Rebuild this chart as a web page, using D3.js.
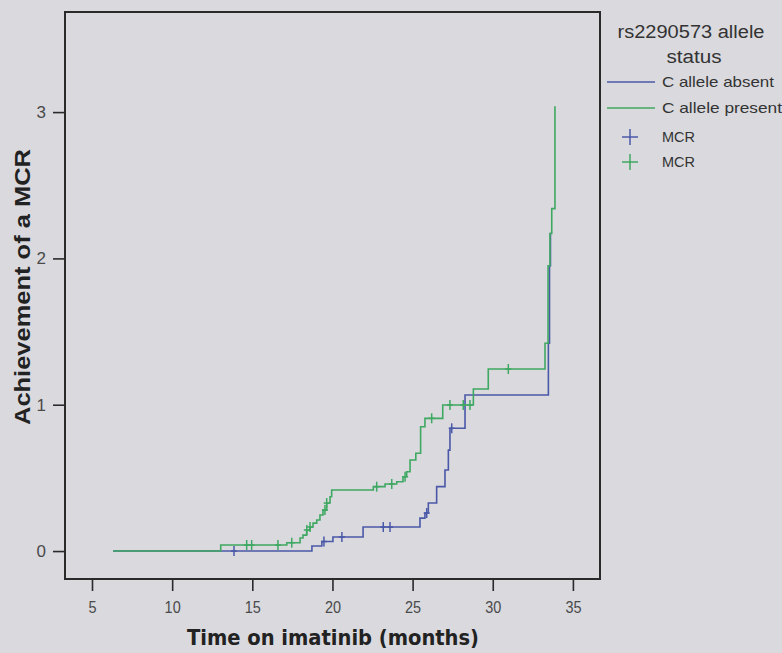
<!DOCTYPE html>
<html>
<head>
<meta charset="utf-8">
<script src="https://cdn.jsdelivr.net/npm/d3@7/dist/d3.min.js"></script>
<style>
  html, body { margin: 0; padding: 0; background: #d9d9de; }
  svg { display: block; }
</style>
</head>
<body>
<svg id="chart" width="782" height="653"></svg>
<script>
// ---- data ----
const xTicks = [5, 10, 15, 20, 25, 30, 35];
const yTicks = [0, 1, 2, 3];
const seriesNames = ["C allele absent", "C allele present"];
const censorLabel = "MCR";
const legendTitle = ["rs2290573 allele", "status"];
const xTitle = "Time on imatinib (months)";
const yTitle = "Achievement of a MCR";

// C allele absent: step points [time, cumulative hazard]
const absentSteps = [
  [6.31, 0], [18.72, 0.035], [19.34, 0.065], [20.03, 0.096], [21.91, 0.164],
  [25.46, 0.225], [25.77, 0.26], [25.98, 0.328], [26.50, 0.44], [27.02, 0.554],
  [27.23, 0.69], [27.33, 0.839], [28.27, 1.066], [33.47, 1.42], [33.54, 1.95],
  [33.60, 2.17], [33.63, 2.17]
];
const absentCensors = [
  [13.86, 0], [19.47, 0.065], [20.59, 0.096], [23.17, 0.164], [23.59, 0.164],
  [25.88, 0.26], [27.44, 0.839]
];

// C allele present
const presentSteps = [
  [6.31, 0], [13.03, 0.041], [17.15, 0.057], [17.98, 0.089], [18.16, 0.109],
  [18.39, 0.144], [18.60, 0.164], [18.79, 0.191], [19.02, 0.212], [19.22, 0.246],
  [19.41, 0.28], [19.64, 0.328], [19.85, 0.371], [19.95, 0.417], [22.55, 0.44],
  [23.28, 0.458], [24.01, 0.474], [24.40, 0.508], [24.63, 0.542], [24.84, 0.622],
  [25.20, 0.668], [25.50, 0.85], [25.77, 0.907], [26.88, 0.998], [28.79, 1.107],
  [29.72, 1.244], [33.26, 1.42], [33.45, 1.95], [33.57, 2.17], [33.68, 2.34],
  [33.88, 3.04]
];
const presentCensors = [
  [14.65, 0.041], [14.96, 0.041], [16.60, 0.041], [17.46, 0.057], [18.40, 0.144],
  [18.60, 0.164], [19.53, 0.28], [19.64, 0.328], [22.76, 0.44], [23.70, 0.458],
  [24.53, 0.508], [26.19, 0.907], [27.33, 0.998], [28.16, 0.998], [28.58, 0.998],
  [30.97, 1.244]
];

const colors = ["#4a58a8", "#3fa862"];

// ---- layout ----
const svg = d3.select("#chart");
const plot = { left: 65, top: 12, right: 600, bottom: 579 };

const x = d3.scaleLinear().domain([3.316, 36.69]).range([plot.left, plot.right]);
const y = d3.scaleLinear().domain([-0.191, 3.684]).range([plot.bottom, plot.top]);

svg.append("rect").attr("width", 782).attr("height", 653).attr("fill", "#d9d9de");

// axes
const xAxis = d3.axisBottom(x).tickValues(xTicks).tickSize(12).tickPadding(10).tickFormat(d3.format("d"));
const yAxis = d3.axisLeft(y).tickValues(yTicks).tickSize(12).tickPadding(7).tickFormat(d3.format("d"));

const gx = svg.append("g").attr("transform", `translate(0,${plot.bottom})`).call(xAxis);
const gy = svg.append("g").attr("transform", `translate(${plot.left},0)`).call(yAxis);
[gx, gy].forEach(g => {
  g.select(".domain").remove();
  g.selectAll(".tick line").attr("stroke", "#2a2a2a").attr("stroke-width", 1.6);
  g.selectAll(".tick text")
    .attr("fill", "#4a4a4a")
    .style("font-family", "'Liberation Sans', Arial, sans-serif")
    .style("font-size", "17px");
});
gx.selectAll(".tick text").attr("transform", "scale(0.85,1)");

// frame
svg.append("rect")
  .attr("x", plot.left).attr("y", plot.top)
  .attr("width", plot.right - plot.left).attr("height", plot.bottom - plot.top)
  .attr("fill", "none").attr("stroke", "#2a2a2a").attr("stroke-width", 2);

// curves
const line = d3.line().x(d => x(d[0])).y(d => y(d[1])).curve(d3.curveStepAfter);
const series = [
  { steps: absentSteps, censors: absentCensors, color: colors[0] },
  { steps: presentSteps, censors: presentCensors, color: colors[1] }
];
series.forEach(s => {
  svg.append("path").datum(s.steps)
    .attr("d", line).attr("fill", "none")
    .attr("stroke", s.color).attr("stroke-width", 1.6);
});
series.forEach(s => {
  const g = svg.append("g").attr("stroke", s.color).attr("stroke-width", 1.5);
  s.censors.forEach(c => {
    const cx = x(c[0]), cy = y(c[1]);
    g.append("line").attr("x1", cx).attr("x2", cx).attr("y1", cy - 5).attr("y2", cy + 5);
    g.append("line").attr("x1", cx - 3).attr("x2", cx + 3).attr("y1", cy).attr("y2", cy);
  });
});

// axis titles
svg.append("text")
  .attr("x", 333).attr("y", 645)
  .attr("text-anchor", "middle")
  .attr("textLength", 292).attr("lengthAdjust", "spacingAndGlyphs")
  .attr("fill", "#222")
  .style("font-family", "'DejaVu Sans', Verdana, sans-serif")
  .style("font-weight", "bold")
  .style("font-size", "21px")
  .text(xTitle);

svg.append("text")
  .attr("transform", "translate(30,287) rotate(-90)")
  .attr("text-anchor", "middle")
  .attr("textLength", 276).attr("lengthAdjust", "spacingAndGlyphs")
  .attr("fill", "#222")
  .style("font-family", "'Liberation Sans', Arial, sans-serif")
  .style("font-weight", "bold")
  .style("font-size", "22px")
  .text(yTitle);

// legend
const lg = svg.append("g").style("font-family", "'Liberation Sans', Arial, sans-serif").attr("fill", "#333");
lg.append("text").attr("x", 691).attr("y", 38).attr("text-anchor", "middle")
  .style("font-size", "18px").attr("textLength", 147).attr("lengthAdjust", "spacingAndGlyphs")
  .text(legendTitle[0]);
lg.append("text").attr("x", 694).attr("y", 63).attr("text-anchor", "middle")
  .style("font-size", "18px").attr("textLength", 55).attr("lengthAdjust", "spacingAndGlyphs")
  .text(legendTitle[1]);

const itemY = [82, 108];
seriesNames.forEach((name, i) => {
  lg.append("line").attr("x1", 607).attr("x2", 655).attr("y1", itemY[i]).attr("y2", itemY[i])
    .attr("stroke", colors[i]).attr("stroke-width", 1.5);
  lg.append("text").attr("x", 662).attr("y", itemY[i] + 5)
    .style("font-size", "15px")
    .attr("textLength", i === 0 ? 112 : 120).attr("lengthAdjust", "spacingAndGlyphs")
    .text(name);
});
const plusY = [137, 162];
colors.forEach((c, i) => {
  const g = lg.append("g").attr("stroke", c).attr("stroke-width", 1.5);
  g.append("line").attr("x1", 622).attr("x2", 638).attr("y1", plusY[i]).attr("y2", plusY[i]);
  g.append("line").attr("x1", 630).attr("x2", 630).attr("y1", plusY[i] - 8).attr("y2", plusY[i] + 8);
  lg.append("text").attr("x", 662).attr("y", plusY[i] + 5)
    .style("font-size", "15px").attr("textLength", 33).attr("lengthAdjust", "spacingAndGlyphs")
    .text(censorLabel);
});
</script>
</body>
</html>
